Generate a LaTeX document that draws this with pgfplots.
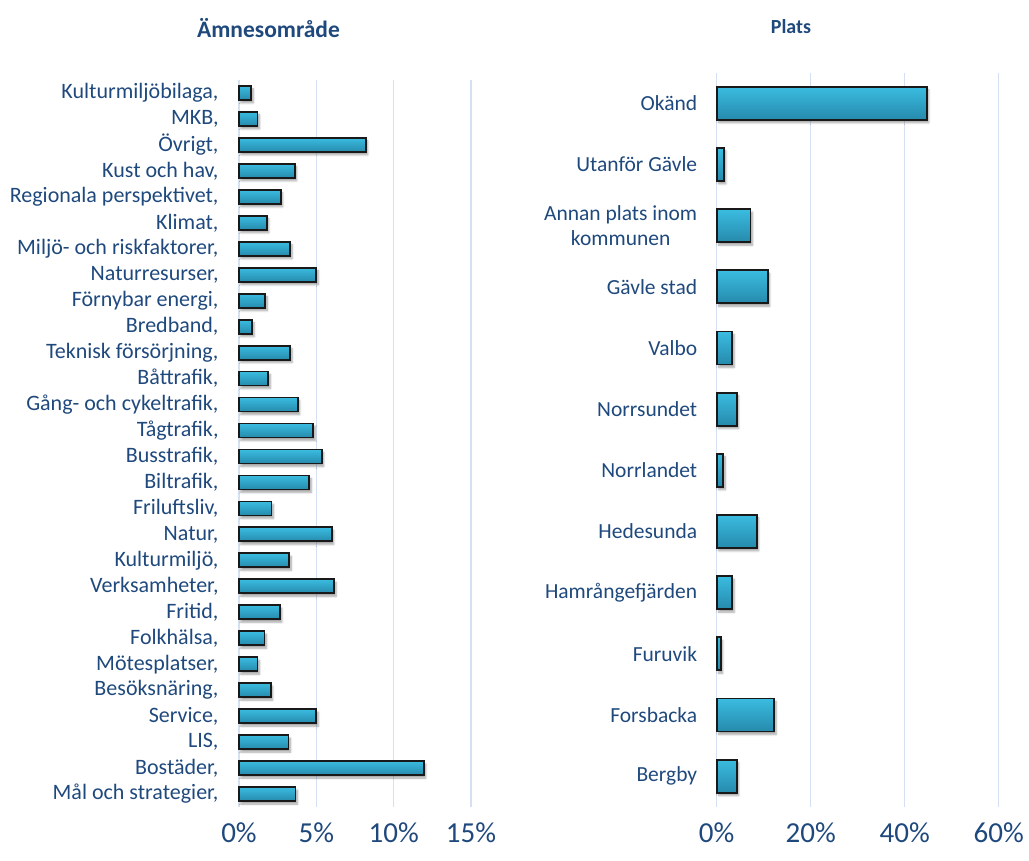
\documentclass[border=0pt]{standalone}
\usepackage{pgfplots}
\pgfplotsset{compat=1.18}
\usepackage{fontspec}
\setmainfont{Carlito}
\usetikzlibrary{shadows.blur}
\definecolor{txt}{RGB}{31,73,125}
\definecolor{gridc}{RGB}{213,225,242}
\definecolor{barlight}{RGB}{58,188,224}
\definecolor{bardark}{RGB}{38,138,172}
\definecolor{edgec}{RGB}{25,25,25}
\pgfplotsset{
  mybars/.style={
    scale only axis,
    xbar, bar shift=0pt,
    y dir=reverse,
    axis line style={draw=none},
    xmajorgrids,
    grid style={gridc, line width=1.2pt},
    major tick length=0pt,
    xmin=0,
    /pgf/number format/assume math mode=true,
    xticklabel={\pgfmathprintnumber{\tick}\%},
    xticklabel style={font=\fontsize{29}{29}\selectfont, text=txt, yshift=-12pt},
    yticklabel style={text=txt, align=center},
    clip=false,
  },
  barstyle/.style={
    draw=edgec, line width=1.8pt, top color=barlight, bottom color=bardark,
    blur shadow={shadow xshift=2pt, shadow yshift=-3pt, shadow blur steps=6, shadow opacity=35},
  },
}
\begin{document}
\begin{tikzpicture}[x=1pt,y=1pt]
\path[use as bounding box] (0,0) rectangle (1029,861);
\node[text=txt, font=\fontsize{23.5}{23.5}\selectfont\bfseries] at (268.5,833) {Ämnesområde};
\node[text=txt, font=\fontsize{20}{20}\selectfont\bfseries] at (791,834) {Plats};
\begin{axis}[mybars,
  at={(239pt,54pt)}, anchor=south west,
  width=232pt, height=727pt,
  xmax=15, xtick={0,5,10,15},
  ymin=-0.5, ymax=27.5,
  ytick={0,...,27},
  bar width=14pt,
  yticklabel style={xshift=-17pt, font=\fontsize{22}{25}\selectfont},
  yticklabels={{Kulturmiljöbilaga,},{MKB,},{Övrigt,},{Kust och hav,},{Regionala perspektivet,},{Klimat,},{Miljö- och riskfaktorer,},{Naturresurser,},{Förnybar energi,},{Bredband,},{Teknisk försörjning,},{Båttrafik,},{Gång- och cykeltrafik,},{Tågtrafik,},{Busstrafik,},{Biltrafik,},{Friluftsliv,},{Natur,},{Kulturmiljö,},{Verksamheter,},{Fritid,},{Folkhälsa,},{Mötesplatser,},{Besöksnäring,},{Service,},{LIS,},{Bostäder,},{Mål och strategier,}},
]
\addplot[barstyle] coordinates {(0.8,0)};
\addplot[barstyle] coordinates {(1.2,1)};
\addplot[barstyle] coordinates {(8.2,2)};
\addplot[barstyle] coordinates {(3.6,3)};
\addplot[barstyle] coordinates {(2.7,4)};
\addplot[barstyle] coordinates {(1.8,5)};
\addplot[barstyle] coordinates {(3.3,6)};
\addplot[barstyle] coordinates {(5.0,7)};
\addplot[barstyle] coordinates {(1.7,8)};
\addplot[barstyle] coordinates {(0.85,9)};
\addplot[barstyle] coordinates {(3.3,10)};
\addplot[barstyle] coordinates {(1.9,11)};
\addplot[barstyle] coordinates {(3.8,12)};
\addplot[barstyle] coordinates {(4.8,13)};
\addplot[barstyle] coordinates {(5.35,14)};
\addplot[barstyle] coordinates {(4.55,15)};
\addplot[barstyle] coordinates {(2.1,16)};
\addplot[barstyle] coordinates {(6.0,17)};
\addplot[barstyle] coordinates {(3.25,18)};
\addplot[barstyle] coordinates {(6.15,19)};
\addplot[barstyle] coordinates {(2.65,20)};
\addplot[barstyle] coordinates {(1.65,21)};
\addplot[barstyle] coordinates {(1.2,22)};
\addplot[barstyle] coordinates {(2.05,23)};
\addplot[barstyle] coordinates {(5.0,24)};
\addplot[barstyle] coordinates {(3.2,25)};
\addplot[barstyle] coordinates {(11.95,26)};
\addplot[barstyle] coordinates {(3.65,27)};
\end{axis}
\begin{axis}[mybars,
  at={(716.7pt,54.3pt)}, anchor=south west,
  width=282pt, height=734pt,
  xmax=60, xtick={0,20,40,60},
  ymin=-0.5, ymax=11.5,
  ytick={0,...,11},
  bar width=33pt,
  yticklabel style={xshift=-16pt, font=\fontsize{21.5}{25}\selectfont},
  yticklabels={{Okänd},{Utanför Gävle},{Annan plats inom\\kommunen},{Gävle stad},{Valbo},{Norrsundet},{Norrlandet},{Hedesunda},{Hamrångefjärden},{Furuvik},{Forsbacka},{Bergby}},
]
\addplot[barstyle] coordinates {(44.7,0)};
\addplot[barstyle] coordinates {(1.55,1)};
\addplot[barstyle] coordinates {(7.2,2)};
\addplot[barstyle] coordinates {(10.85,3)};
\addplot[barstyle] coordinates {(3.3,4)};
\addplot[barstyle] coordinates {(4.25,5)};
\addplot[barstyle] coordinates {(1.4,6)};
\addplot[barstyle] coordinates {(8.5,7)};
\addplot[barstyle] coordinates {(3.3,8)};
\addplot[barstyle] coordinates {(0.85,9)};
\addplot[barstyle] coordinates {(12.2,10)};
\addplot[barstyle] coordinates {(4.25,11)};
\end{axis}
\end{tikzpicture}
\end{document}
